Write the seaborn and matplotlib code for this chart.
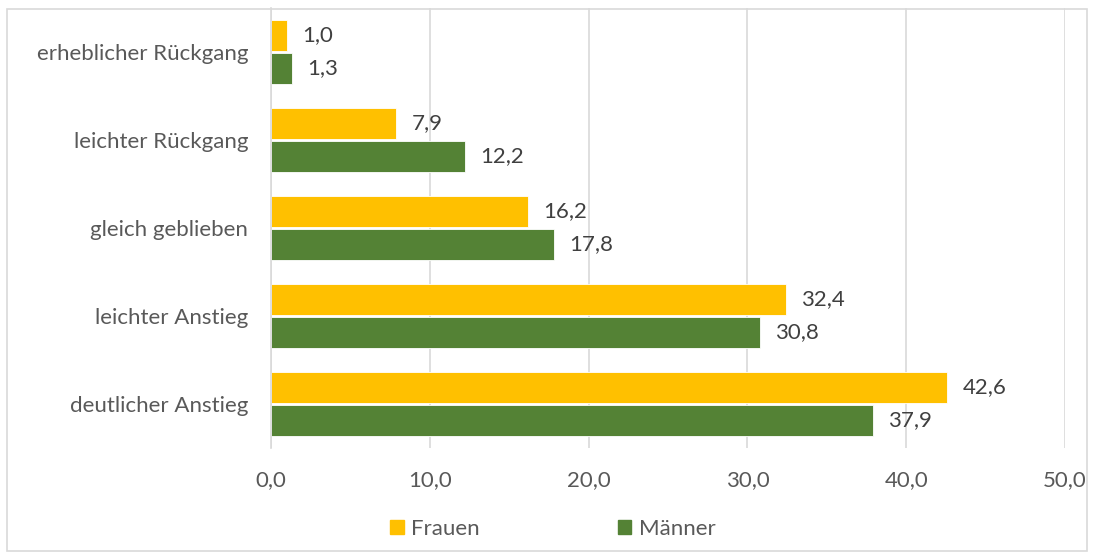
import matplotlib
matplotlib.use("Agg")
import matplotlib.pyplot as plt
import seaborn as sns
import pandas as pd
from matplotlib.patches import Rectangle

categories = ["erheblicher Rückgang", "leichter Rückgang", "gleich geblieben",
              "leichter Anstieg", "deutlicher Anstieg"]
frauen = [1.0, 7.9, 16.2, 32.4, 42.6]
maenner = [1.3, 12.2, 17.8, 30.8, 37.9]
series = ["Frauen", "Männer"]
colors = ["#FFC000", "#548235"]
xticks = [0, 10, 20, 30, 40, 50]

df = pd.DataFrame({
    "Kategorie": categories * 2,
    "Wert": frauen + maenner,
    "Gruppe": [series[0]] * len(categories) + [series[1]] * len(categories),
})

sns.set_theme(style="white")
plt.rcParams["font.family"] = ["Lato", "DejaVu Sans"]
FS = 16

fig = plt.figure(figsize=(10.94, 5.58), dpi=100)
ax = fig.add_axes([271 / 1094, 1 - 448 / 558, (1065 - 271) / 1094, 440 / 558])

sns.barplot(data=df, y="Kategorie", x="Wert", hue="Gruppe", order=categories,
            hue_order=series, palette=colors, saturation=1, orient="h",
            width=0.75, gap=0.05, edgecolor="white", linewidth=0.6, ax=ax,
            legend=False)

for cont in ax.containers:
    labels = [f"{v:.1f}".replace(".", ",") for v in cont.datavalues]
    ax.bar_label(cont, labels=labels, padding=11, fontsize=FS, color="#404040")

ax.set_xlim(0, 50)
ax.set_ylim(4.5, -0.5)
ax.set_xticks(xticks)
ax.set_xticklabels([f"{t:.1f}".replace(".", ",") for t in xticks])
ax.tick_params(axis="x", length=0, pad=16, labelsize=FS, labelcolor="#595959")
ax.tick_params(axis="y", length=0, pad=16.5, labelsize=FS, labelcolor="#595959")
ax.set_xlabel("")
ax.set_ylabel("")
ax.xaxis.grid(True, color="#d9d9d9", linewidth=1.2)
ax.set_axisbelow(True)
for s in ["top", "right", "bottom"]:
    ax.spines[s].set_visible(False)
ax.spines["left"].set_color("#d9d9d9")
ax.spines["left"].set_linewidth(1.2)

handles = [Rectangle((0, 0), 1, 1, color=c) for c in colors]
fig.legend(handles, series, loc="center", bbox_to_anchor=(553 / 1094, 1 - 529 / 558),
           ncol=2, frameon=False, fontsize=FS, labelcolor="#595959",
           handlelength=0.6, handleheight=0.6, handletextpad=0.35, columnspacing=6.2)

fig.patches.append(Rectangle((7 / 1094, 1 - 551 / 558), 1080 / 1094, 542 / 558,
                             transform=fig.transFigure, fill=False,
                             edgecolor="#d9d9d9", linewidth=1.2))

fig.savefig("out.png", dpi=100)
